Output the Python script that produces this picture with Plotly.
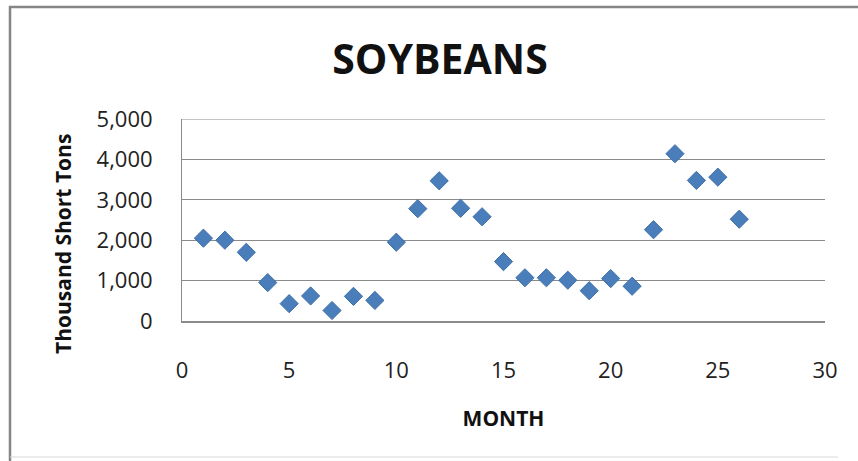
import plotly.graph_objects as go

months = list(range(1, 27))
soybeans = [2050, 2000, 1700, 950, 430, 620, 260, 610, 510, 1950,
            2780, 3470, 2790, 2580, 1470, 1070, 1070, 1010, 750, 1050,
            860, 2260, 4140, 3480, 3560, 2520]

x_ticks = [0, 5, 10, 15, 20, 25, 30]
y_ticks = [0, 1000, 2000, 3000, 4000, 5000]

FONT = "'Open Sans', Carlito, Lato, sans-serif"
W, H = 858, 461
L, R, T, B = 182, 825, 119, 321

fig = go.Figure(go.Scatter(
    x=months, y=soybeans, mode="markers",
    marker=dict(symbol="diamond", size=14, color="#4a7ebb",
                line=dict(color="#3f6fa8", width=1)),
    showlegend=False,
))

def px(xp):
    return (xp - L) / (R - L)

def py(yp):
    return (B - yp) / (B - T)

fig.update_layout(
    width=W, height=H,
    margin=dict(l=L, r=W - R, t=T, b=H - B),
    paper_bgcolor="white", plot_bgcolor="white",
    font=dict(family=FONT, color="#222222", size=22),
    title=dict(text="<b>SOYBEANS</b>", x=440 / W, xanchor="center",
               y=1 - 60 / H, yanchor="middle",
               font=dict(family=FONT, size=41, color="#111111")),
    xaxis=dict(range=[0, 30], tickvals=x_ticks, showgrid=False, zeroline=False,
               showline=True, linecolor="#8a8a8a", linewidth=2,
               ticks="", ticklabelstandoff=29,
               title=dict(text="<b>MONTH</b>", standoff=28,
                          font=dict(family=FONT, size=21, color="#111111"))),
    yaxis=dict(range=[0, 5000], tickvals=y_ticks, tickformat=",d",
               showgrid=True, gridcolor="#8a8a8a", gridwidth=1,
               zeroline=False, showline=True, linecolor="#8a8a8a", linewidth=1,
               ticks="", ticklabelstandoff=24),
    annotations=[
        dict(text="<b>Thousand Short Tons</b>", textangle=-90, showarrow=False,
             xref="paper", yref="paper", x=px(63), y=py(244),
             xanchor="center", yanchor="middle",
             font=dict(family=FONT, size=21, color="#111111")),
    ],
    shapes=[
        # top gridline (plotly skips gridlines on the plot edge)
        dict(type="line", xref="paper", yref="y", x0=0, x1=1, y0=y_ticks[-1], y1=y_ticks[-1],
             line=dict(color="#8a8a8a", width=1), layer="below"),
        dict(type="line", xref="paper", yref="paper", x0=px(9), x1=px(W + 5), y0=py(7), y1=py(7),
             line=dict(color="#858585", width=2.5)),
        dict(type="line", xref="paper", yref="paper", x0=px(10), x1=px(10), y0=py(6), y1=py(H + 5),
             line=dict(color="#858585", width=2.5)),
        dict(type="line", xref="paper", yref="paper", x0=px(10), x1=px(W - 20), y0=py(457), y1=py(457),
             line=dict(color="#d8d8d8", width=1)),
    ],
)

fig.write_html("out.html", config={"displayModeBar": False},
               post_script="document.body.style.margin='0';document.body.style.padding='0';")
